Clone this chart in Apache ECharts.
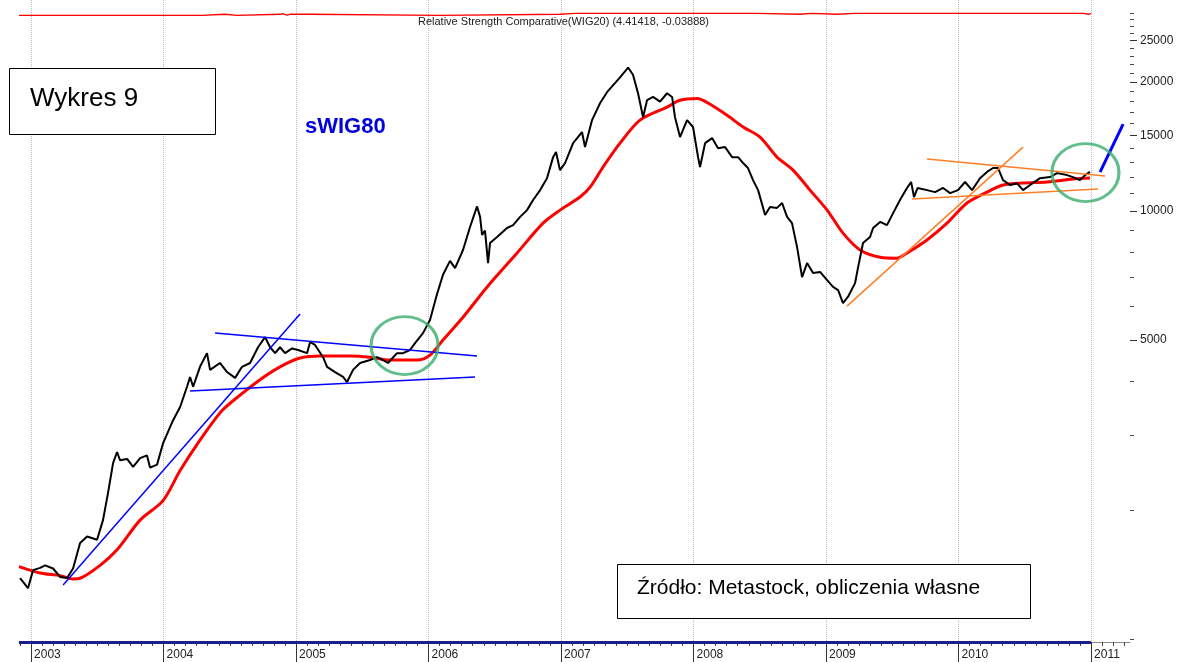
<!DOCTYPE html>
<html lang="pl">
<head>
  <meta charset="UTF-8" />
  <title>sWIG80 - Wykres 9</title>
  <script src="https://cdn.jsdelivr.net/npm/echarts@6/dist/echarts.min.js"></script>
  <style>
    body { margin: 0; background: #fff; }
    #chart { width: 1178px; height: 662px; }
  </style>
</head>
<body>
  <div id="chart"></div>
  <script>
    // sWIG80 (dni jako ulamek roku)
    const priceYears = [2002.917, 2002.977, 2003.015, 2003.068, 2003.106, 2003.166, 2003.219, 2003.272, 2003.317, 2003.370,
      2003.423, 2003.498, 2003.543, 2003.581, 2003.619, 2003.649, 2003.672, 2003.725, 2003.770, 2003.823,
      2003.875, 2003.898, 2003.951, 2003.996, 2004.049, 2004.072, 2004.125, 2004.177, 2004.200, 2004.223,
      2004.275, 2004.328, 2004.351, 2004.426, 2004.479, 2004.540, 2004.592, 2004.653, 2004.713, 2004.766,
      2004.804, 2004.842, 2004.879, 2004.917, 2004.970, 2005.015, 2005.083, 2005.106, 2005.143, 2005.204,
      2005.234, 2005.294, 2005.355, 2005.385, 2005.430, 2005.483, 2005.558, 2005.611, 2005.657, 2005.694,
      2005.762, 2005.808, 2005.860, 2005.898, 2005.958, 2006.011, 2006.064, 2006.109, 2006.162, 2006.200,
      2006.260, 2006.313, 2006.366, 2006.389, 2006.404, 2006.426, 2006.449, 2006.464, 2006.517, 2006.592,
      2006.638, 2006.691, 2006.743, 2006.789, 2006.842, 2006.894, 2006.940, 2006.962, 2006.992, 2007.030,
      2007.091, 2007.158, 2007.181, 2007.234, 2007.294, 2007.347, 2007.392, 2007.445, 2007.506, 2007.543,
      2007.581, 2007.619, 2007.649, 2007.694, 2007.747, 2007.800, 2007.838, 2007.860, 2007.898, 2007.951,
      2007.996, 2008.034, 2008.049, 2008.087, 2008.140, 2008.185, 2008.238, 2008.291, 2008.336, 2008.374,
      2008.411, 2008.449, 2008.487, 2008.540, 2008.577, 2008.630, 2008.668, 2008.706, 2008.743, 2008.781,
      2008.819, 2008.857, 2008.902, 2008.955, 2009.008, 2009.053, 2009.091, 2009.128, 2009.166, 2009.219,
      2009.242, 2009.279, 2009.332, 2009.355, 2009.408, 2009.460, 2009.506, 2009.558, 2009.611, 2009.642,
      2009.664, 2009.691, 2009.762, 2009.823, 2009.883, 2009.936, 2009.996, 2010.049, 2010.102, 2010.162,
      2010.215, 2010.260, 2010.298, 2010.336, 2010.389, 2010.442, 2010.487, 2010.540, 2010.615, 2010.691,
      2010.743, 2010.819, 2010.864, 2010.917, 2010.955, 2010.992];
    const priceValues = [1392, 1318, 1452, 1470, 1490, 1465, 1400, 1392, 1465, 1680,
      1740, 1710, 1900, 2200, 2580, 2740, 2620, 2640, 2530, 2650,
      2690, 2520, 2560, 2870, 3130, 3250, 3490, 3890, 4100, 3890,
      4330, 4660, 4260, 4420, 4210, 4080, 4330, 4420, 4810, 5080,
      4810, 4660, 4810, 4660, 4780, 4740, 4660, 4950, 4870, 4560,
      4330, 4210, 4100, 3990, 4260, 4420, 4490, 4560, 4490, 4420,
      4660, 4660, 4740, 4920, 5190, 5570, 6400, 7100, 7650, 7360,
      8110, 9180, 10250, 9690, 8800, 9000, 7560, 8420, 8700, 9130,
      9270, 9690, 10050, 10610, 11190, 11930, 13360, 13730, 12460, 12940,
      14400, 15290, 14100, 16300, 17850, 18940, 19650, 20500, 21620, 20800,
      18830, 16560, 18140, 18460, 18000, 18830, 18460, 16560, 14880, 16300,
      15710, 13360, 12670, 14400, 14800, 14020, 14100, 13360, 13360, 12940,
      12600, 11810, 11190, 9790, 10220, 10170, 10440, 9690, 9370, 8250,
      7010, 7560, 7170, 7210, 6900, 6650, 6540, 6100, 6310, 6790,
      7400, 8420, 8700, 9130, 9430, 9270, 9890, 10610, 11320, 11690,
      10780, 11320, 11190, 11070, 11320, 11010, 11190, 11690, 11190, 11930,
      12340, 12600, 12600, 11810, 11500, 11600, 11190, 11500, 11930, 12000,
      12260, 12130, 12000, 11810, 12130, 12340];

    // srednia kroczaca (czerwona)
    const maYears = [2002.909, 2003.068, 2003.219, 2003.317, 2003.370, 2003.521, 2003.649, 2003.823, 2003.996, 2004.125,
      2004.275, 2004.426, 2004.502, 2004.728, 2004.879, 2005.030, 2005.181, 2005.408, 2005.558, 2005.709,
      2005.913, 2006.011, 2006.109, 2006.260, 2006.442, 2006.668, 2006.864, 2006.992, 2007.143, 2007.219,
      2007.317, 2007.445, 2007.596, 2007.800, 2007.898, 2008.026, 2008.125, 2008.253, 2008.374, 2008.502,
      2008.630, 2008.751, 2008.879, 2009.008, 2009.128, 2009.257, 2009.408, 2009.536, 2009.611, 2009.762,
      2009.913, 2010.064, 2010.215, 2010.336, 2010.487, 2010.668, 2010.864, 2010.992];
    const maValues = [1480, 1430, 1410, 1385, 1390, 1490, 1620, 1900, 2110, 2480,
      2920, 3380, 3560, 4040, 4330, 4540, 4590, 4590, 4560, 4490,
      4490, 4610, 5000, 5650, 6650, 7980, 9370, 10050, 10780, 11370,
      12670, 14400, 16300, 17480, 18140, 18300, 17750, 16730, 15710, 14880,
      13360, 12460, 11190, 10050, 8880, 8110, 7800, 7760, 7980, 8560,
      9370, 10440, 11070, 11500, 11620, 11690, 11880, 11940];

    // Relative Strength Comparative (WIG20), panel gorny
    const rscYears = [2002.909, 2004.290, 2004.300, 2004.465, 2004.475, 2004.555, 2004.565, 2004.880, 2004.900, 2004.930,
      2004.955, 2005.015, 2005.100, 2005.110, 2006.080, 2006.095, 2006.990, 2007.110, 2007.890, 2007.900,
      2007.910, 2008.475, 2008.485, 2008.800, 2008.810, 2008.890, 2008.900, 2009.080, 2009.090, 2009.220,
      2009.230, 2010.940, 2010.950, 2010.985, 2011.000];
    const rscValues = [4.30, 4.30, 4.36, 4.36, 4.30, 4.30, 4.36, 4.36, 4.40, 4.31,
      4.36, 4.36, 4.36, 4.30, 4.30, 4.36, 4.36, 4.41, 4.41, 4.37,
      4.41, 4.41, 4.36, 4.36, 4.41, 4.41, 4.36, 4.36, 4.41, 4.41,
      4.41, 4.41, 4.36, 4.36, 4.41];

    // linie trendu [[rok, wartosc], [rok, wartosc]]
    const blueLines = [
      [[2003.242, 1340], [2005.030, 5750]],
      [[2004.389, 5192], [2006.366, 4587]],
      [[2004.200, 3802], [2006.351, 4099]]
    ];
    const blueArrow = [[2011.068, 12330], [2011.242, 15960]];
    const orangeLines = [
      [[2009.158, 5998], [2010.487, 14100]],
      [[2009.762, 13224], [2011.106, 12066]],
      [[2009.649, 10666], [2011.053, 11255]]
    ];
    const circles = [[2005.819, 4854], [2010.958, 12296]];

    const yearTicks = [2003, 2004, 2005, 2006, 2007, 2008, 2009, 2010, 2011];
    const yLabels = [5000, 10000, 15000, 20000, 25000];
    const yTicks = [];
    for (let v = 1000; v <= 29000; v += 1000) yTicks.push(v);
    const monthTicks = [];
    for (let m = 2002 * 12 + 11; m <= 2011 * 12 + 3; m++) {
      if (m % 12 !== 0) monthTicks.push(m / 12);
    }

    const X_MIN = 2002.909, X_MAX = 2011.294;
    const Y_MIN = 987, Y_MAX = 31080;
    const FONT = 'Liberation Sans, Arial, sans-serif';

    const zip = (a, b) => a.map((x, i) => [x, b[i]]);

    const chart = echarts.init(document.getElementById('chart'));

    const trend = (pts, color, width) => ({
      type: 'line', xAxisIndex: 0, yAxisIndex: 0, data: pts,
      symbol: 'none', silent: true, clip: false,
      lineStyle: { color: color, width: width }, z: 4
    });

    const series = [
      {
        name: 'sWIG80', type: 'line', xAxisIndex: 0, yAxisIndex: 0,
        data: zip(priceYears, priceValues), symbol: 'none',
        lineStyle: { color: '#000', width: 2 }, z: 3,
        markLine: {
          silent: true, symbol: 'none', label: { show: false },
          lineStyle: { color: '#1c1c8a', width: 3, type: 'solid' },
          data: [[{ coord: [X_MIN, Y_MIN] }, { coord: [2011.0, Y_MIN] }]]
        }
      },
      {
        name: 'MA', type: 'line', xAxisIndex: 0, yAxisIndex: 0,
        data: zip(maYears, maValues), symbol: 'none', smooth: 0.3,
        lineStyle: { color: '#ff0000', width: 3 }, z: 2
      }
    ];
    blueLines.forEach(l => series.push(trend(l, '#0000ff', 1.5)));
    orangeLines.forEach(l => series.push(trend(l, '#ff7f27', 1.5)));
    series.push(trend(blueArrow, '#0000ff', 3));
    series.push({
      type: 'scatter', xAxisIndex: 0, yAxisIndex: 0, silent: true,
      data: circles, symbol: 'circle', symbolSize: [67, 58], z: 5,
      itemStyle: { color: 'rgba(0,0,0,0)', borderColor: '#3aad6c', borderWidth: 3 }
    });
    series.push({
      name: 'RSC', type: 'line', xAxisIndex: 2, yAxisIndex: 2,
      data: zip(rscYears, rscValues), symbol: 'none',
      lineStyle: { color: '#ff0000', width: 1.3 }
    });

    chart.setOption({
      animation: false,
      backgroundColor: '#fff',
      textStyle: { fontFamily: FONT },
      grid: [
        { left: 19, right: 48, top: 0, bottom: 20, outerBoundsMode: 'none' },
        { left: 19, right: 48, top: 4, height: 20, outerBoundsMode: 'none' }
      ],
      xAxis: [
        {
          type: 'value', gridIndex: 0, min: X_MIN, max: X_MAX, position: 'bottom',
          axisLine: { lineStyle: { color: '#888', width: 1 } },
          axisTick: { customValues: monthTicks, length: 4, lineStyle: { color: '#444' } },
          axisLabel: { show: false }, splitLine: { show: false }
        },
        {
          type: 'value', gridIndex: 0, min: X_MIN, max: X_MAX, position: 'bottom',
          axisLine: { show: false },
          axisTick: { customValues: yearTicks, length: 20, lineStyle: { color: '#333' } },
          axisLabel: {
            customValues: yearTicks, formatter: v => String(Math.round(v)),
            align: 'left', padding: [0, 0, 0, 3], margin: 7,
            fontSize: 12, color: '#222', fontFamily: FONT
          },
          splitLine: { show: true, lineStyle: { color: '#bbb', type: 'dotted', width: 1 } }
        },
        {
          type: 'value', gridIndex: 1, min: X_MIN, max: X_MAX, show: false
        }
      ],
      yAxis: [
        {
          type: 'log', logBase: 10, gridIndex: 0, position: 'right', min: Y_MIN, max: Y_MAX,
          axisLine: { show: false },
          axisTick: { show: true, customValues: yTicks, length: 4, lineStyle: { color: '#444' } },
          axisLabel: { show: false }, splitLine: { show: false }
        },
        {
          type: 'log', logBase: 10, gridIndex: 0, position: 'right', min: Y_MIN, max: Y_MAX,
          axisLine: { show: false },
          axisTick: { show: true, customValues: yLabels, length: 7, lineStyle: { color: '#333' } },
          axisLabel: {
            customValues: yLabels, margin: 10, fontSize: 12, color: '#222', fontFamily: FONT,
            formatter: v => String(Math.round(v))
          },
          splitLine: { show: false }
        },
        {
          type: 'value', gridIndex: 1, min: 3.795, max: 4.955, show: false
        }
      ],
      series: series,
      graphic: [
        {
          type: 'rect', left: 9, top: 68, z: 10,
          shape: { width: 206, height: 66 },
          style: { fill: '#fff', stroke: '#000', lineWidth: 1 }
        },
        {
          type: 'text', left: 30, top: 86, z: 11,
          style: { text: 'Wykres 9', font: '26px ' + FONT, fill: '#000' }
        },
        {
          type: 'text', left: 305, top: 116, z: 11,
          style: { text: 'sWIG80', font: 'bold 22px ' + FONT, fill: '#0000e0' }
        },
        {
          type: 'rect', left: 617, top: 564, z: 10,
          shape: { width: 413, height: 54 },
          style: { fill: '#fff', stroke: '#000', lineWidth: 1 }
        },
        {
          type: 'text', left: 637, top: 578, z: 11,
          style: { text: 'Źródło: Metastock, obliczenia własne', font: '21px ' + FONT, fill: '#000' }
        },
        {
          type: 'text', left: 418, top: 16, z: 11,
          style: { text: 'Relative Strength Comparative(WIG20) (4.41418, -0.03888)', font: '11px ' + FONT, fill: '#222' }
        }
      ]
    });
  </script>
</body>
</html>
